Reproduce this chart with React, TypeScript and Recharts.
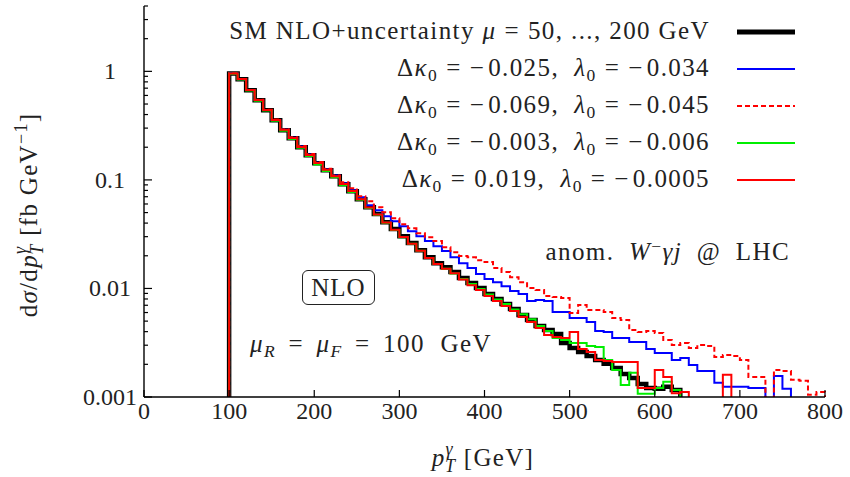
import { LineChart, Line, XAxis, YAxis } from 'recharts';

// histogram bins: 10 GeV wide, starting at 100 GeV
const binStart = 100;
const binWidth = 10;
const floorValue = 1e-5; // below the plot, used to close the histograms

const smNlo = [
  0.958, 0.844, 0.669, 0.541, 0.438, 0.354, 0.287, 0.242, 0.2, 0.169,
  0.142, 0.123, 0.108, 0.0913, 0.0787, 0.0665, 0.0561, 0.0484, 0.0408, 0.0352,
  0.0303, 0.0262, 0.0225, 0.0194, 0.0171, 0.0157, 0.0142, 0.0125, 0.0112, 0.0101,
  0.00888, 0.00799, 0.00719, 0.00646, 0.00569, 0.00512, 0.00451, 0.00414, 0.00381, 0.00315,
  0.00283, 0.0026, 0.00239, 0.00219, 0.00202, 0.00185, 0.00163, 0.0015, 0.00132, 0.00121,
  0.00119, 0.00124, 0.00116,
];

const anomBlue = [
  0.96, 0.846, 0.672, 0.545, 0.441, 0.357, 0.29, 0.245, 0.203, 0.171,
  0.144, 0.125, 0.11, 0.0932, 0.0804, 0.0693, 0.0585, 0.0526, 0.0463, 0.0417,
  0.0375, 0.0337, 0.0303, 0.0273, 0.0245, 0.0221, 0.0194, 0.0171, 0.0154, 0.0136,
  0.0122, 0.0114, 0.0105, 0.00946, 0.00888, 0.00766, 0.00782, 0.00766, 0.00606, 0.00606,
  0.00534, 0.00534, 0.00491, 0.00406, 0.00397, 0.0035, 0.0035, 0.00321, 0.00321, 0.00277,
  0.00254, 0.00254, 0.00219, 0.00229, 0.00197, 0.00174, 0.00174, 0.00135, 0.00124, 0.00124,
  0.00124, 0.00121, 0.00121, 0.0001, 0.00156, 0.00119,
];

const anomDashed = [
  0.962, 0.848, 0.675, 0.548, 0.444, 0.36, 0.292, 0.247, 0.205, 0.173,
  0.146, 0.127, 0.11, 0.0953, 0.0839, 0.0708, 0.0637, 0.0561, 0.0504, 0.0444,
  0.0391, 0.0359, 0.0323, 0.0297, 0.0273, 0.024, 0.0216, 0.0199, 0.0194, 0.0182,
  0.0175, 0.0154, 0.0142, 0.0127, 0.0114, 0.0101, 0.00966, 0.00851, 0.00833, 0.00816,
  0.00594, 0.00704, 0.00633, 0.00633, 0.00606, 0.00534, 0.00512, 0.00414, 0.00397, 0.00406,
  0.00389, 0.00335, 0.00301, 0.00315, 0.00283, 0.00301, 0.00295, 0.00234, 0.00244, 0.00239,
  0.00219, 0.00153, 0.00153, 0.00098, 0.00177, 0.00174, 0.00144, 0.00141, 0.00105, 0.00111,
];

const anomGreen = [
  0.95, 0.84, 0.665, 0.535, 0.435, 0.35, 0.284, 0.238, 0.198, 0.166,
  0.139, 0.121, 0.106, 0.0895, 0.0775, 0.0655, 0.0552, 0.0478, 0.0402, 0.0346,
  0.0297, 0.0258, 0.0222, 0.0191, 0.0168, 0.0152, 0.0137, 0.0122, 0.011, 0.0099,
  0.0088, 0.0079, 0.0072, 0.0064, 0.0058, 0.0052, 0.00451, 0.00406, 0.0035, 0.00335,
  0.00315, 0.00315, 0.00295, 0.00289, 0.00219, 0.00177, 0.00129, 0.00167, 0.00107, 0.00107,
  0.00121, 0.00138, 0.00116,
];

const anomRed = [
  0.955, 0.85, 0.672, 0.545, 0.44, 0.356, 0.289, 0.243, 0.201, 0.17,
  0.143, 0.124, 0.108, 0.0915, 0.079, 0.0665, 0.0558, 0.048, 0.0405, 0.0348,
  0.0298, 0.0258, 0.0222, 0.0191, 0.0168, 0.0152, 0.0138, 0.0121, 0.0107, 0.00966,
  0.00851, 0.00766, 0.00689, 0.00619, 0.00545, 0.00491, 0.00432, 0.00373, 0.00357, 0.0035,
  0.00397, 0.00277, 0.0026, 0.00219, 0.00215, 0.0021, 0.0021, 0.0021, 0.00121, 0.00121,
  0.00177, 0.00153, 0.00108, 0.00111, 0.0001, 0.0001, 0.0001, 0.0001, 0.0016,
];

const xTicks = [0, 100, 200, 300, 400, 500, 600, 700, 800];
const yMajor = [0.001, 0.01, 0.1, 1];
const yTicks = [
  0.001, 0.002, 0.003, 0.004, 0.005, 0.006, 0.007, 0.008, 0.009,
  0.01, 0.02, 0.03, 0.04, 0.05, 0.06, 0.07, 0.08, 0.09,
  0.1, 0.2, 0.3, 0.4, 0.5, 0.6, 0.7, 0.8, 0.9,
  1, 2, 3, 4,
];

function toSteps(values: number[]) {
  const pts = [{ x: binStart, y: floorValue }];
  values.forEach((v, i) => pts.push({ x: binStart + i * binWidth, y: v }));
  pts.push({ x: binStart + values.length * binWidth, y: floorValue });
  return pts;
}

const FONT = "'Liberation Serif', 'DejaVu Serif', serif";
const INK = '#222';
const TXT = 25;
const SPACING = '1.4px';

const BottomTick = (props: any) => {
  const { x, y, payload } = props;
  return (
    <g>
      <line x1={x} y1={y} x2={x} y2={y - 7} stroke="#000" strokeWidth={1.2} />
      <text x={x} y={y + 22} textAnchor="middle" fontSize={24} fill={INK} fontFamily={FONT}>
        {payload.value}
      </text>
    </g>
  );
};

const TopTick = (props: any) => {
  const { x, y } = props;
  return <line x1={x} y1={y} x2={x} y2={y + 7} stroke="#000" strokeWidth={1.2} />;
};

const LeftTick = (props: any) => {
  const { x, y, payload } = props;
  const major = yMajor.includes(payload.value);
  return (
    <g>
      <line x1={x} y1={y} x2={x + (major ? 8 : 4)} y2={y} stroke="#000" strokeWidth={1.2} />
      {major && (
        <text x={x - 34} y={y + 8} textAnchor="middle" fontSize={24} fill={INK} fontFamily={FONT}>
          {String(payload.value)}
        </text>
      )}
    </g>
  );
};

const RightTick = (props: any) => {
  const { x, y, payload } = props;
  const major = yMajor.includes(payload.value);
  return <line x1={x} y1={y} x2={x - (major ? 8 : 4)} y2={y} stroke="#000" strokeWidth={1.2} />;
};

const Sub = ({ children }: { children: any }) => (
  <span style={{ fontSize: '0.7em', position: 'relative', top: '0.3em' }}>{children}</span>
);
const Sup = ({ children }: { children: any }) => (
  <span style={{ fontSize: '0.7em', position: 'relative', top: '-0.45em' }}>{children}</span>
);
// math-style relation and minus with TeX-like spacing
const Eq = () => <span style={{ padding: '0 0.32em' }}>=</span>;
const Minus = () => <span style={{ padding: '0 0.12em 0 0' }}>−</span>;

const kappaRow = (k: any, l: string) => (
  <>
    Δ<i>κ</i>
    <Sub>0</Sub>
    <Eq />
    {k},&nbsp;&nbsp;<i>λ</i>
    <Sub>0</Sub>
    <Eq />
    <Minus />
    {l}
  </>
);

const legendRows = [
  {
    label: (
      <>
        SM NLO+uncertainty <i>μ</i>
        <Eq />
        50, ..., 200 GeV
      </>
    ),
    color: '#000',
    width: 5,
    dash: undefined,
  },
  { label: kappaRow(<><Minus />0.025</>, '0.034'), color: '#0000ff', width: 2, dash: undefined },
  { label: kappaRow(<><Minus />0.069</>, '0.045'), color: '#ff0000', width: 2, dash: '5 3' },
  { label: kappaRow(<><Minus />0.003</>, '0.006'), color: '#00ee00', width: 2, dash: undefined },
  { label: kappaRow('0.019', '0.0005'), color: '#ff0000', width: 2, dash: undefined },
];
const legendY = [32, 69, 106, 143, 180];

export default function App() {
  return (
    <div
      style={{
        position: 'absolute',
        left: 0,
        top: 0,
        width: 850,
        height: 477,
        background: '#fff',
        fontFamily: FONT,
        color: INK,
      }}
    >
      <LineChart width={850} height={477} margin={{ top: 6, right: 25, bottom: 0, left: 0 }}>
        <XAxis
          type="number"
          dataKey="x"
          domain={[0, 800]}
          ticks={xTicks}
          interval={0}
          height={80}
          tickSize={0}
          tickMargin={0}
          tick={<BottomTick />}
          axisLine={{ stroke: '#000', strokeWidth: 1.4 }}
        />
        <XAxis
          xAxisId="top"
          orientation="top"
          type="number"
          dataKey="x"
          domain={[0, 800]}
          ticks={xTicks}
          interval={0}
          height={0}
          tickSize={0}
          tickMargin={0}
          tick={<TopTick />}
          axisLine={{ stroke: '#000', strokeWidth: 1.4 }}
        />
        <YAxis
          scale="log"
          domain={[0.001, 4]}
          allowDataOverflow
          ticks={yTicks}
          interval={0}
          width={144}
          tickSize={0}
          tickMargin={0}
          tick={<LeftTick />}
          axisLine={{ stroke: '#000', strokeWidth: 1.4 }}
        />
        <YAxis
          yAxisId="right"
          orientation="right"
          scale="log"
          domain={[0.001, 4]}
          allowDataOverflow
          ticks={yTicks}
          interval={0}
          width={0}
          tickSize={0}
          tickMargin={0}
          tick={<RightTick />}
          axisLine={{ stroke: '#000', strokeWidth: 1.4 }}
        />
        <Line data={toSteps(smNlo)} dataKey="y" type="stepAfter" stroke="#000" strokeWidth={4.5} dot={false} isAnimationActive={false} />
        <Line data={toSteps(anomBlue)} dataKey="y" type="stepAfter" stroke="#0000ff" strokeWidth={2} dot={false} isAnimationActive={false} />
        <Line data={toSteps(anomDashed)} dataKey="y" type="stepAfter" stroke="#ff0000" strokeWidth={2} strokeDasharray="5 3" dot={false} isAnimationActive={false} />
        <Line data={toSteps(anomGreen)} dataKey="y" type="stepAfter" stroke="#00ee00" strokeWidth={2} dot={false} isAnimationActive={false} />
        <Line data={toSteps(anomRed)} dataKey="y" type="stepAfter" stroke="#ff0000" strokeWidth={2} dot={false} isAnimationActive={false} />
      </LineChart>

      {/* legend */}
      {legendRows.map((row, i) => (
        <div
          key={i}
          style={{
            position: 'absolute',
            right: 850 - 710,
            top: legendY[i] - 16,
            fontSize: TXT,
            lineHeight: '30px',
            letterSpacing: SPACING,
            whiteSpace: 'nowrap',
            textAlign: 'right',
          }}
        >
          {row.label}
        </div>
      ))}

      {/* annotations */}
      <div
        style={{
          position: 'absolute',
          right: 850 - 790,
          top: 238,
          fontSize: TXT,
          letterSpacing: SPACING,
          wordSpacing: '7px',
          whiteSpace: 'nowrap',
        }}
      >
        anom. <i>W</i>
        <Sup>−</Sup>
        <i>γj</i> @ LHC
      </div>
      <div
        style={{
          position: 'absolute',
          left: 302,
          top: 270,
          width: 71,
          height: 33,
          border: `1.5px solid ${INK}`,
          borderRadius: 6,
          fontSize: TXT,
          lineHeight: '34px',
          letterSpacing: '1px',
          textAlign: 'center',
        }}
      >
        NLO
      </div>
      <div
        style={{
          position: 'absolute',
          left: 250,
          top: 330,
          fontSize: TXT,
          letterSpacing: SPACING,
          wordSpacing: '8px',
          whiteSpace: 'nowrap',
        }}
      >
        <i>μ</i>
        <Sub>
          <i>R</i>
        </Sub>
        <span style={{ padding: '0 0.5em' }}>=</span>
        <i>μ</i>
        <Sub>
          <i>F</i>
        </Sub>
        <span style={{ padding: '0 0.5em' }}>=</span>
        100 GeV
      </div>

      <svg style={{ position: 'absolute', left: 0, top: 0, pointerEvents: 'none' }} width={850} height={477}>
        {legendRows.map((row, i) => (
          <line
            key={i}
            x1={737}
            x2={795}
            y1={legendY[i]}
            y2={legendY[i]}
            stroke={row.color}
            strokeWidth={row.width}
            strokeDasharray={row.dash}
          />
        ))}
        {/* x axis title */}
        <text x={483} y={466} textAnchor="middle" fontSize={TXT} fill={INK} fontFamily={FONT} letterSpacing={1.3}>
          <tspan fontStyle="italic">p</tspan>
          <tspan fontSize={18} fontStyle="italic" dy={-11}>γ</tspan>
          <tspan fontSize={18} fontStyle="italic" dx={-9} dy={17}>T</tspan>
          <tspan dy={-6}> [GeV]</tspan>
        </text>
        {/* y axis title */}
        <text
          x={0}
          y={0}
          transform="translate(37 215) rotate(-90)"
          textAnchor="middle"
          fontSize={TXT}
          fill={INK}
          fontFamily={FONT}
          letterSpacing={1.3}
        >
          d<tspan fontStyle="italic">σ</tspan>/d<tspan fontStyle="italic">p</tspan>
          <tspan fontSize={18} fontStyle="italic" dy={-11}>γ</tspan>
          <tspan fontSize={18} fontStyle="italic" dx={-9} dy={17}>T</tspan>
          <tspan dy={-6}> [fb GeV</tspan>
          <tspan fontSize={18} dy={-10}>−1</tspan>
          <tspan dy={10}>]</tspan>
        </text>
      </svg>
    </div>
  );
}
